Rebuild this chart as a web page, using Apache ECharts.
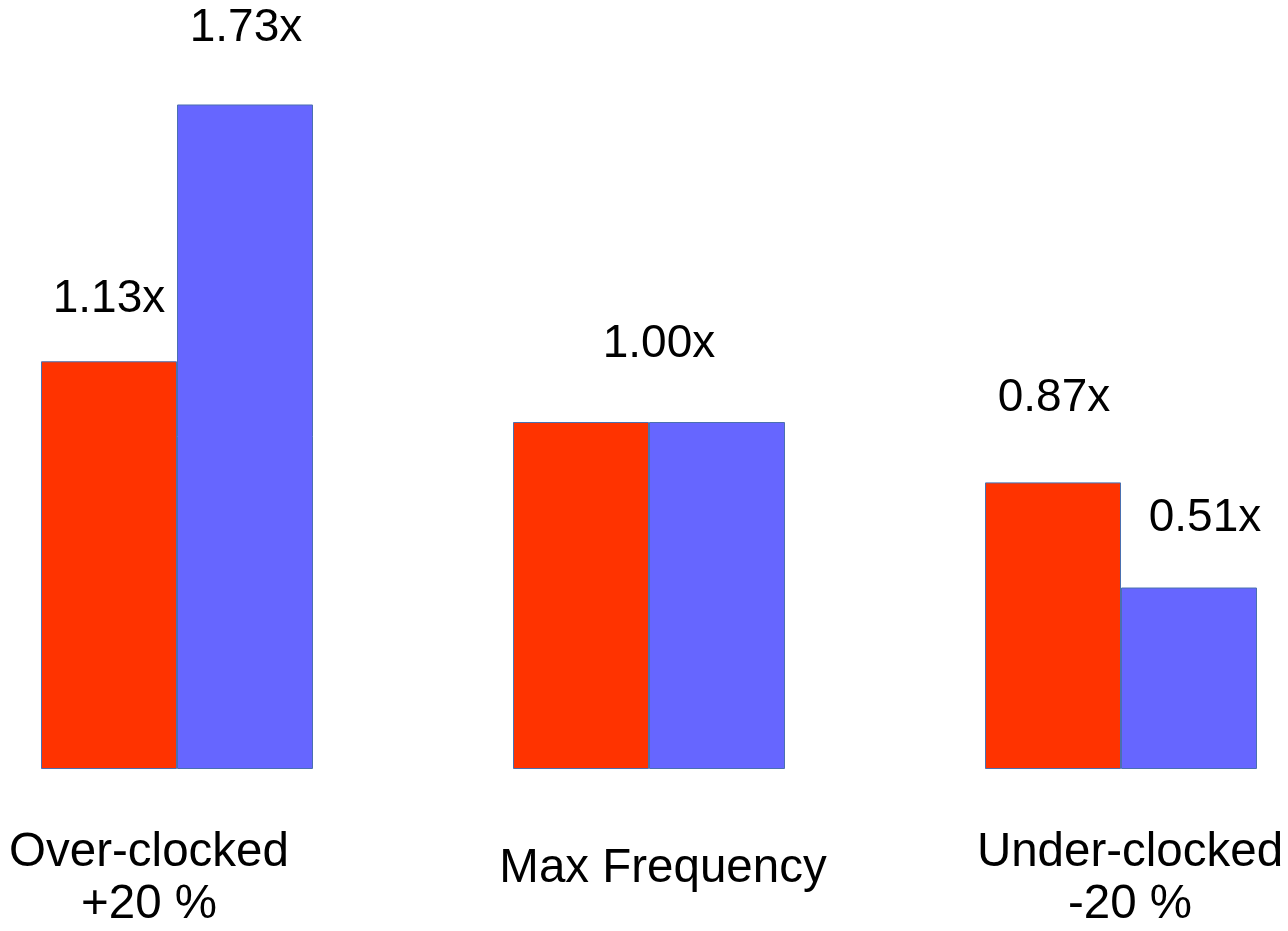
<!DOCTYPE html>
<html>
<head>
<meta charset="utf-8">
<script src="https://cdn.jsdelivr.net/npm/echarts@6/dist/echarts.min.js"></script>
<style>
  html, body { margin: 0; padding: 0; background: #ffffff; }
  #chart { width: 1288px; height: 931px; }
</style>
</head>
<body>
<div id="chart"></div>
<script>
// ---- data ----
const categories = ['Over-clocked\n+20 %', 'Max Frequency', 'Under-clocked\n-20 %'];
const redValues = [1.175, 1.0, 0.826];
const blueValues = [1.915, 1.0, 0.523];
const redLabels = ['1.13x', '', '0.87x'];
const blueLabels = ['1.73x', '1.00x', '0.51x'];

// ---- styling / placement (not data) ----
const redLabelOffsets = [[0, -39], [0, 0], [1, -61]];
const blueLabelOffsets = [[1, -53], [-58, -55], [16, -46]];
const categoryPaddings = [[0, 56, 0, 0], [16, 0, 0, 28], [0, 0, 0, 18]];

const FONT = '"Liberation Sans", Arial, sans-serif';

function buildItems(values, labels, offsets) {
  return values.map((v, i) => ({
    value: v,
    label: {
      show: labels[i] !== '',
      formatter: labels[i],
      offset: offsets[i]
    }
  }));
}

const chart = echarts.init(document.getElementById('chart'), null, { renderer: 'canvas' });
chart.setOption({
  animation: false,
  backgroundColor: '#ffffff',
  grid: { left: 177, right: 167, top: 75, bottom: 161, containLabel: false },
  xAxis: {
    type: 'category',
    boundaryGap: false,
    data: categories.map((c, i) => ({ value: c, textStyle: { padding: categoryPaddings[i] } })),
    axisLine: { show: false },
    axisTick: { show: false },
    splitLine: { show: false },
    axisLabel: {
      interval: 0,
      margin: 58,
      color: '#000000',
      fontSize: 47.5,
      lineHeight: 52,
      fontFamily: FONT
    }
  },
  yAxis: {
    type: 'value',
    min: 0,
    max: 2,
    show: false
  },
  series: [
    {
      name: 'Series 1',
      type: 'bar',
      barWidth: 136,
      barGap: '0%',
      itemStyle: { color: '#ff3300', borderColor: '#4a70b0', borderWidth: 1 },
      label: {
        position: 'top',
        distance: 0,
        color: '#000000',
        fontSize: 46,
        lineHeight: 46,
        fontFamily: FONT
      },
      data: buildItems(redValues, redLabels, redLabelOffsets)
    },
    {
      name: 'Series 2',
      type: 'bar',
      barWidth: 136,
      barGap: '0%',
      itemStyle: { color: '#6666ff', borderColor: '#4a70b0', borderWidth: 1 },
      label: {
        position: 'top',
        distance: 0,
        color: '#000000',
        fontSize: 46,
        lineHeight: 46,
        fontFamily: FONT
      },
      data: buildItems(blueValues, blueLabels, blueLabelOffsets)
    }
  ]
});
</script>
</body>
</html>
